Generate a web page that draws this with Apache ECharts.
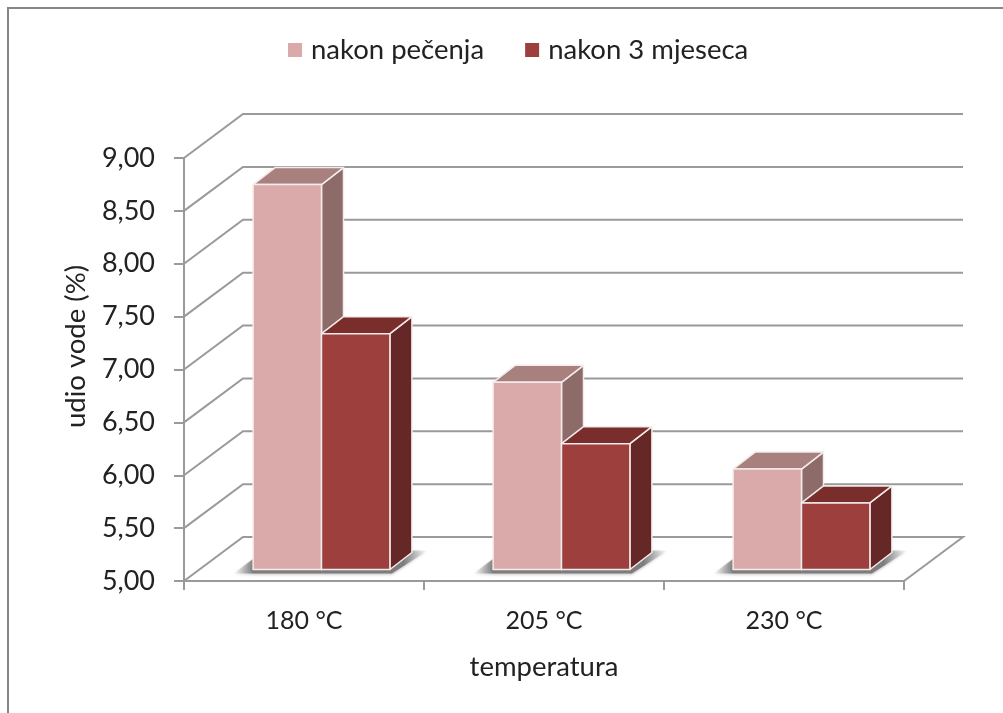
<!DOCTYPE html>
<html><head><meta charset="utf-8">
<style>html,body{margin:0;padding:0;background:#fff}#c{width:1003px;height:713px}</style>
<script src="https://cdn.jsdelivr.net/npm/echarts@6/dist/echarts.min.js"></script>
</head><body><div id="c"></div>
<script>
const categories = ['180 °C', '205 °C', '230 °C'];
const seriesNames = ['nakon pečenja', 'nakon 3 mjeseca'];
const afterRoasting = [8.64, 6.77, 5.95];
const afterThreeMonths = [7.23, 6.19, 5.63];
const yTicks = [5, 5.5, 6, 6.5, 7, 7.5, 8, 8.5, 9];
const frontColors = ['#DAA9A9', '#9C3F3D'];
const topColors = ['#A8807E', '#7A2E2C'];
const sideColors = ['#8C6B68', '#652826'];
const WALL = { dx: 59, dy: -44 };
const BAR = { ox: 17.5, oy: -11.5, dx: 22, dy: -17, widthFrac: 0.285 };
const LINE = '#9a9a9a';

const chart = echarts.init(document.getElementById('c'), null, { renderer: 'canvas' });

function barRender(si) {
  return function (params, api) {
    const idx = api.value(0), val = api.value(1);
    const base = api.coord([idx, 5]), top = api.coord([idx, val]);
    const w = api.size([1, 0])[0] * BAR.widthFrac;
    const x0 = base[0] + BAR.ox + (si === 0 ? -w : 0), x1 = x0 + w;
    const yb = base[1] + BAR.oy, yt = top[1] + BAR.oy;
    const stroke = { stroke: '#f4ecec', lineWidth: 1.5, lineJoin: 'round' };
    const poly = (pts, fill) => ({ type: 'polygon', shape: { points: pts }, style: Object.assign({ fill }, stroke) });
    return { type: 'group', children: [
      poly([[x1, yt], [x1 + BAR.dx, yt + BAR.dy], [x1 + BAR.dx, yb + BAR.dy], [x1, yb]], sideColors[si]),
      poly([[x0, yt], [x0 + BAR.dx, yt + BAR.dy], [x1 + BAR.dx, yt + BAR.dy], [x1, yt]], topColors[si]),
      poly([[x0, yt], [x1, yt], [x1, yb], [x0, yb]], frontColors[si])
    ] };
  };
}

function shadowRender(params, api) {
  const idx = api.value(0);
  const base = api.coord([idx, 5]);
  const w = api.size([1, 0])[0] * BAR.widthFrac;
  const x0 = base[0] + BAR.ox - w, x1 = base[0] + BAR.ox + w, yb = base[1] + BAR.oy;
  const left = x0 - 20, right = x1 + 38, span = right - left;
  const solid = 'rgba(118,118,118,0.9)', none = 'rgba(170,170,170,0)';
  const fill = new echarts.graphic.LinearGradient(0, 0, 1, 0, [
    { offset: 0, color: none },
    { offset: 20 / span, color: solid },
    { offset: (x1 + 14 - left) / span, color: solid },
    { offset: 1, color: none }
  ]);
  return { type: 'polygon',
    shape: { points: [[left, yb + 4], [x0 + 2, yb - 12], [x1 + BAR.dx, yb + BAR.dy - 2], [right, yb + BAR.dy - 2], [x1 + 2, yb + 4]] },
    style: { fill, shadowBlur: 3, shadowColor: 'rgba(130,130,130,0.55)', shadowOffsetY: 1 } };
}

function wallRender(params, api) {
  const v = api.value(0);
  const p = api.coord([0, v]);
  const s = api.size([1, 0])[0] * categories.length;
  const x = p[0] - api.size([1, 0])[0] / 2, y = p[1];
  const style = { stroke: LINE, lineWidth: 2, fill: null };
  const pts = [[x, y], [x + WALL.dx, y + WALL.dy], [x + WALL.dx + s, y + WALL.dy]];
  if (v === 5) pts.push([x + s, y]);
  return { type: 'polyline', shape: { points: pts }, style };
}

chart.setOption({
  animation: false,
  backgroundColor: '#fff',
  textStyle: { fontFamily: 'Lato' },
  grid: { left: 184, right: 99, top: 158, bottom: 132 },
  legend: {
    left: 283, top: 31, itemWidth: 14, itemHeight: 14, itemGap: 41,
    icon: 'rect',
    data: seriesNames.map((n, i) => ({ name: n, itemStyle: { color: frontColors[i] } })),
    textStyle: { fontFamily: 'Lato', fontSize: 27.5, color: '#222', padding: [0, 0, 0, 4] }
  },
  xAxis: {
    type: 'category', data: categories,
    name: 'temperatura', nameLocation: 'middle', nameGap: 72,
    nameTextStyle: { fontFamily: 'Lato', fontSize: 27.5, color: '#222' },
    axisLine: { lineStyle: { color: LINE, width: 2 } },
    axisTick: { show: true, alignWithLabel: false, length: 9, lineStyle: { color: LINE, width: 2 } },
    axisLabel: { fontFamily: 'Lato', fontSize: 25, color: '#222', margin: 27 }
  },
  yAxis: {
    type: 'value', min: 5, max: 9, interval: 0.5,
    name: 'udio vode (%)', nameLocation: 'middle', nameGap: 94, nameRotate: 90,
    nameTextStyle: { fontFamily: 'Lato', fontSize: 27.5, color: '#222', padding: [0, 0, 0, 46] },
    splitLine: { show: false },
    axisLine: { show: true, lineStyle: { color: LINE, width: 2 } },
    axisTick: { show: true, length: 10, lineStyle: { color: LINE, width: 2 } },
    axisLabel: { fontFamily: 'Lato', fontSize: 27, color: '#222', margin: 29, formatter: v => v.toFixed(2).replace('.', ',') }
  },
  series: [
    { type: 'custom', name: 'walls', coordinateSystem: 'cartesian2d', clip: false, z: 1, silent: true,
      renderItem: wallRender, encode: { y: 0 }, data: yTicks.map(v => [v]) },
    { type: 'custom', name: 'shadow', coordinateSystem: 'cartesian2d', clip: false, z: 2, silent: true,
      renderItem: shadowRender, encode: { x: 0 }, data: categories.map((c, i) => [i]) },
    { type: 'custom', name: seriesNames[0], coordinateSystem: 'cartesian2d', clip: false, z: 3,
      itemStyle: { color: frontColors[0] }, renderItem: barRender(0), encode: { x: 0, y: 1 },
      data: afterRoasting.map((v, i) => [i, v]) },
    { type: 'custom', name: seriesNames[1], coordinateSystem: 'cartesian2d', clip: false, z: 4,
      itemStyle: { color: frontColors[1] }, renderItem: barRender(1), encode: { x: 0, y: 1 },
      data: afterThreeMonths.map((v, i) => [i, v]) }
  ],
  graphic: [
    { type: 'polyline', silent: true, shape: { points: [[8, 713], [8, 8], [1003, 8]] }, style: { stroke: '#868686', lineWidth: 2, fill: null } }
  ]
});
</script></body></html>
